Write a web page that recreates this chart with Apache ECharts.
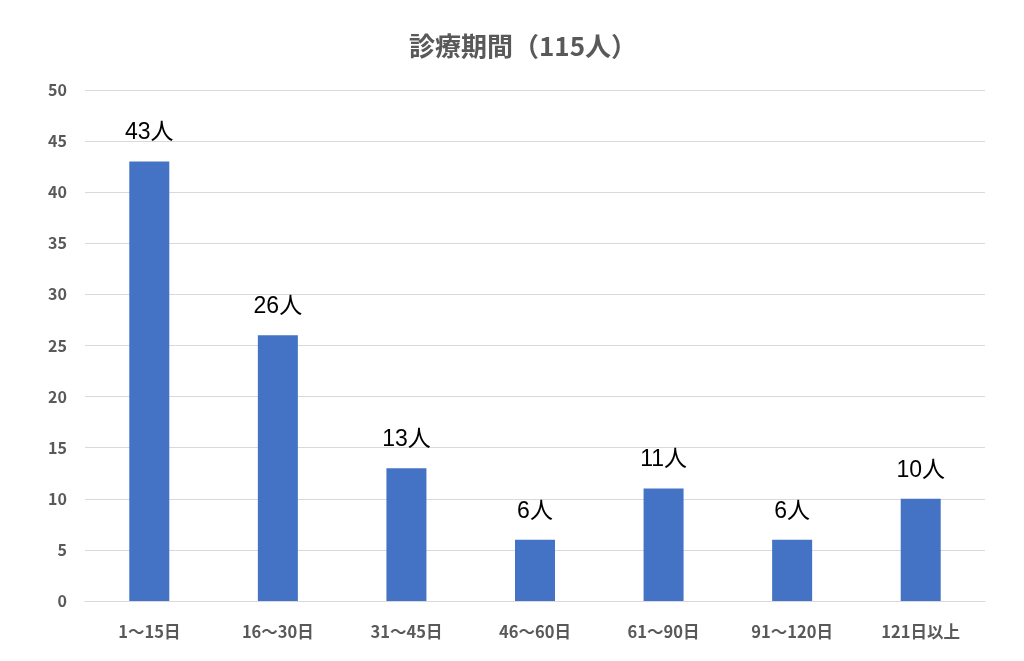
<!DOCTYPE html>
<html><head><meta charset="utf-8">
<script src="https://cdn.jsdelivr.net/npm/echarts@6/dist/echarts.min.js"></script>
<style>html,body{margin:0;padding:0;background:#fff}#c{width:1024px;height:661px}</style>
</head><body><div id="c"></div>
<script>
const titleText = '診療期間（115人）';
const categories = ['1～15日','16～30日','31～45日','46～60日','61～90日','91～120日','121日以上'];
const values = [43, 26, 13, 6, 11, 6, 10];
const unit = '人';
const chart = echarts.init(document.getElementById('c'));
const ff = '"Noto Sans CJK JP", "Noto Sans", sans-serif';
const ffl = '"Liberation Sans", Arial, "Noto Sans CJK JP", sans-serif';
chart.setOption({
  animation: false,
  title: { text: titleText, left: 404, top: 28,
    textStyle: { fontFamily: ff, fontSize: 26, fontWeight: 'bold', color: '#595959' } },
  grid: { left: 85, right: 39, top: 90, bottom: 60 },
  xAxis: { type: 'category', data: categories,
    axisLine: { lineStyle: { color: '#d9d9d9' } }, axisTick: { show: false },
    axisLabel: { fontFamily: ff, fontSize: 16.5, fontWeight: 'bold', color: '#595959', margin: 22 } },
  yAxis: { type: 'value', min: 0, max: 50, interval: 5,
    axisLine: { show: false }, axisTick: { show: false },
    splitLine: { lineStyle: { color: '#d9d9d9' } },
    axisLabel: { fontFamily: ff, fontSize: 16, fontWeight: 'bold', color: '#595959', margin: 18 } },
  series: [{ type: 'bar', data: values, barWidth: 40,
    itemStyle: { color: '#4472C4' },
    label: { show: true, position: 'top', distance: 17, formatter: p => p.value + unit,
      fontFamily: ffl, fontSize: 23, color: '#000' } }]
});
</script></body></html>
